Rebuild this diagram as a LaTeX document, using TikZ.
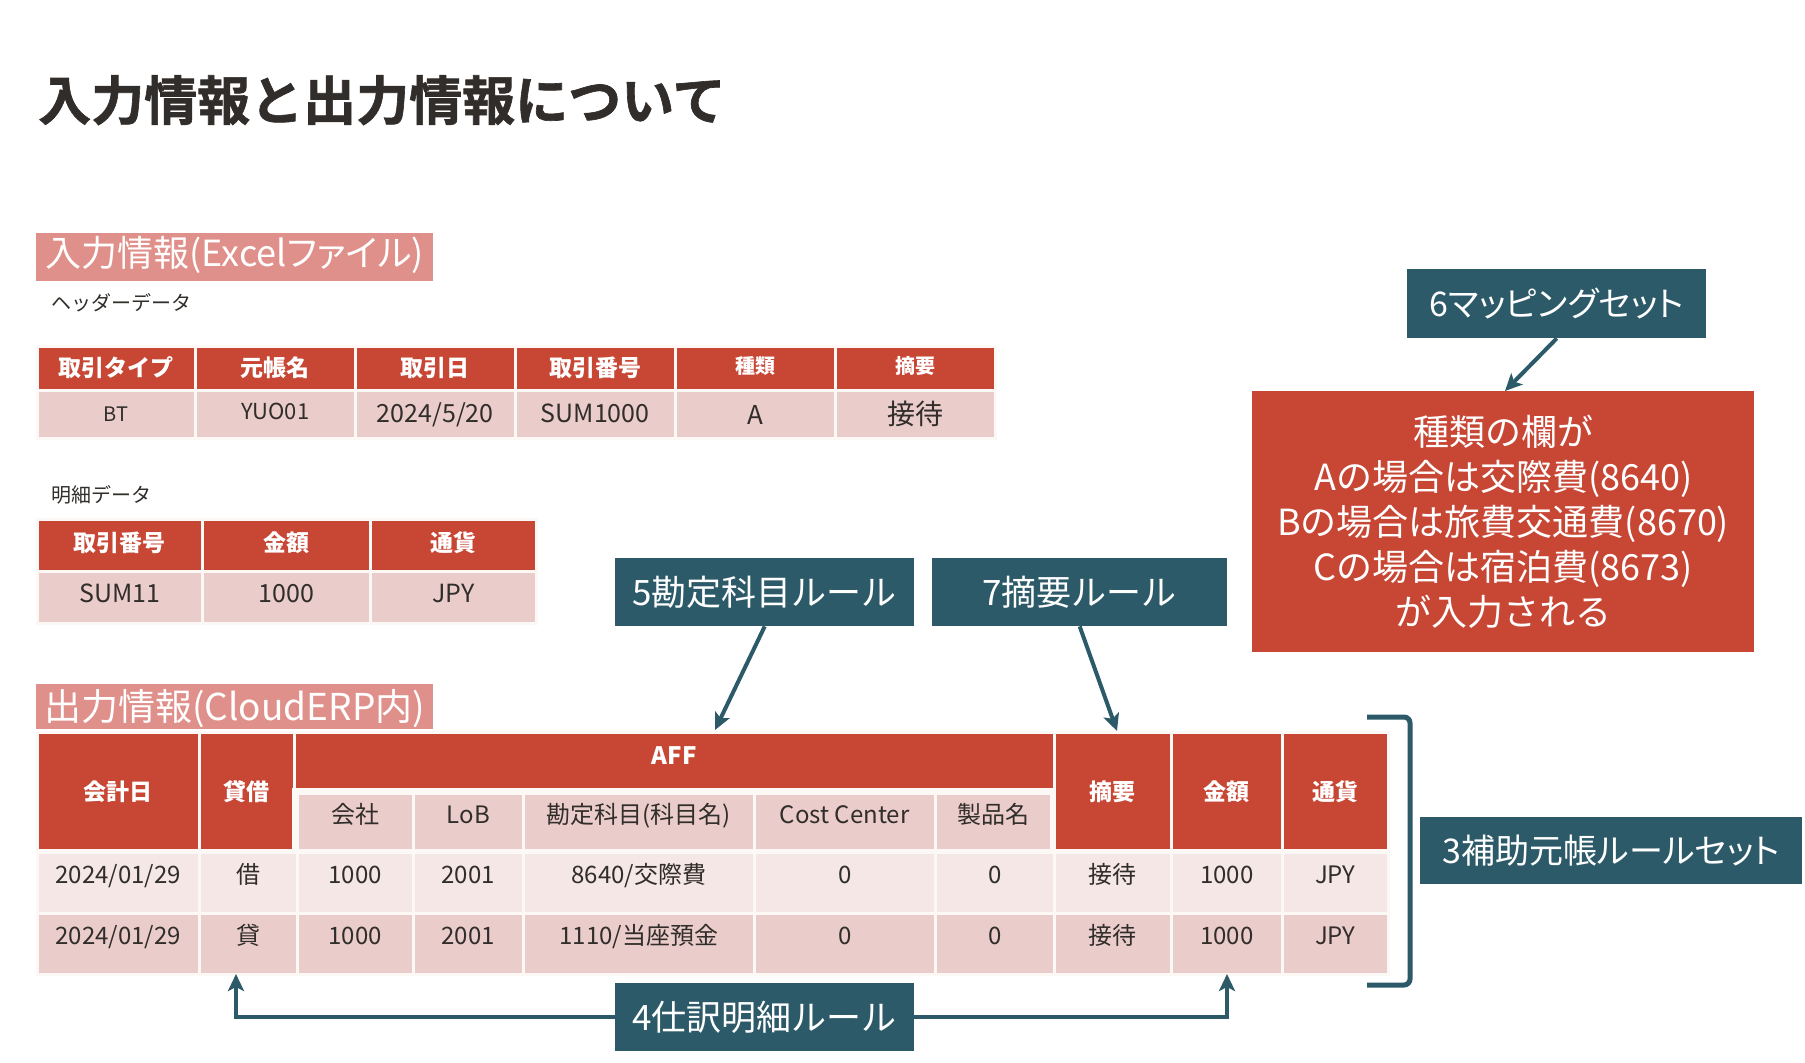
\documentclass[tikz,border=0pt]{standalone}
\usepackage{fontspec}
\setmainfont{Noto Sans CJK JP}
\newfontfamily\jpp{Noto Sans CJK JP}[RawFeature=+palt]
\newfontfamily\titlefont{Noto Sans CJK JP Bold}[FakeBold=1.2]
\usetikzlibrary{arrows.meta}
\definecolor{oRed}{HTML}{C74634}
\definecolor{oSalmon}{HTML}{E0908A}
\definecolor{oPink}{HTML}{EACDCA}
\definecolor{oLight}{HTML}{F4E7E6}
\definecolor{oTeal}{HTML}{2C5A69}
\definecolor{oText}{HTML}{312D2A}
\definecolor{cellline}{HTML}{FBF8F6}
\def\curfs{24}
\def\curlift{0}
\newcommand{\tcell}[7]{\node[#1, minimum width={(#5)-(#3)}, minimum height={(#6)-(#4)}] (#2) at (#3,#4) {#7};}
\tikzset{
  every node/.style={inner sep=0pt},
  sz/.code={\def\curfs{#1}},
  lift/.code={\def\curlift{#1}},
  tx/.style={text height={0.88*\curfs*1pt}, text depth={(0.12*\curfs+2*\curlift)*1pt}},
  cell/.style={tx, anchor=north west, draw=cellline, line width=2.5pt},
  hdr/.style={cell, fill=oRed, text=white, font=\bfseries\fontsize{23}{26}\selectfont, sz=23},
  pcell/.style={cell, fill=oPink, text=oText, font=\fontsize{24}{28}\selectfont, sz=24},
  lcell/.style={cell, fill=oLight, text=oText, font=\fontsize{24}{28}\selectfont, sz=24},
  rulebox/.style={tx, anchor=north west, fill=oTeal, text=white, font=\fontsize{35}{40}\selectfont, sz=35},
  sect/.style={tx, anchor=north west, fill=oSalmon, text=white},
  conn/.style={draw=oTeal, line width=4pt, -{Stealth[length=17pt,width=16pt,inset=4pt]}},
}
\begin{document}
\begin{tikzpicture}[x=1pt,y=-1pt]
\fill[white] (0,0) rectangle (1805,1063);
\useasboundingbox (0,0) rectangle (1805,1063);

\node[tx, sz=53, anchor=west, font=\titlefont\fontsize{53}{60}\selectfont, text=oText] (title) at (38,100) {入力情報と出力情報について};

% input section
\tcell{sect, font=\jpp\fontsize{36}{40}\selectfont, sz=36, lift=4}{secin}{36}{233}{433}{281}{入力情報(Excelファイル)}
\node[tx, sz=20, anchor=west, font=\fontsize{20}{24}\selectfont, text=oText] (hdrlabel) at (51,303) {ヘッダーデータ};

\tcell{hdr}{h1}{36}{345}{194}{389}{取引タイプ}
\tcell{hdr}{h2}{194}{345}{354}{389}{元帳名}
\tcell{hdr}{h3}{354}{345}{514}{389}{取引日}
\tcell{hdr}{h4}{514}{345}{674}{389}{取引番号}
\tcell{hdr, font=\bfseries\fontsize{20}{24}\selectfont, sz=20, lift=2}{h5}{674}{345}{834}{389}{種類}
\tcell{hdr, font=\bfseries\fontsize{20}{24}\selectfont, sz=20, lift=2}{h6}{834}{345}{994}{389}{摘要}
\tcell{pcell, font=\fontsize{20}{24}\selectfont, sz=20}{d1}{36}{389}{194}{437}{BT}
\tcell{pcell, font=\fontsize{22}{24}\selectfont, sz=22, lift=3}{d2}{194}{389}{354}{437}{YUO01}
\tcell{pcell, font=\fontsize{25}{28}\selectfont, sz=25, lift=1}{d3}{354}{389}{514}{437}{2024/5/20}
\tcell{pcell, font=\fontsize{25}{28}\selectfont, sz=25, lift=1}{d4}{514}{389}{674}{437}{SUM1000}
\tcell{pcell, font=\fontsize{26}{28}\selectfont, sz=26}{d5}{674}{389}{834}{437}{A}
\tcell{pcell, font=\fontsize{28}{30}\selectfont, sz=28}{d6}{834}{389}{994}{437}{接待}

\node[tx, sz=20, anchor=west, font=\fontsize{20}{24}\selectfont, text=oText] (detlabel) at (51,495) {明細データ};
\tcell{hdr, lift=2}{m1}{36}{518}{201}{570}{取引番号}
\tcell{hdr, lift=2}{m2}{201}{518}{369}{570}{金額}
\tcell{hdr, lift=2}{m3}{369}{518}{535}{570}{通貨}
\tcell{pcell, font=\fontsize{25}{28}\selectfont, sz=25, lift=4}{n1}{36}{570}{201}{622}{SUM11}
\tcell{pcell, font=\fontsize{25}{28}\selectfont, sz=25, lift=4}{n2}{201}{570}{369}{622}{1000}
\tcell{pcell, font=\fontsize{25}{28}\selectfont, sz=25, lift=4}{n3}{369}{570}{535}{622}{JPY}

% rule boxes
\tcell{rulebox}{box5}{615}{558}{914}{626}{5勘定科目ルール}
\tcell{rulebox}{box7}{932}{558}{1227}{626}{7摘要ルール}
\tcell{rulebox, font=\jpp\fontsize{34}{40}\selectfont, sz=34}{box6}{1407}{269}{1706}{338}{6マッピングセット}
\tcell{rulebox, font=\jpp\fontsize{34}{40}\selectfont, sz=34}{box3}{1420}{817}{1802}{884}{3補助元帳ルールセット}
\tcell{rulebox}{box4}{615}{983}{914}{1051}{4仕訳明細ルール}
\node[anchor=north west, fill=oRed, text=white, minimum width=502, minimum height=261, align=center, font=\fontsize{36}{45}\selectfont] (redbox) at (1252,391) {種類の欄が\\Aの場合は交際費(8640)\\Bの場合は旅費交通費(8670)\\Cの場合は宿泊費(8673)\\が入力される};

% output section
\tcell{sect, font=\fontsize{37}{40}\selectfont, sz=37}{secout}{36}{684}{433}{729}{出力情報(CloudERP内)}

\tcell{hdr}{o1}{36}{731}{198}{849}{会計日}
\tcell{hdr}{o2}{198}{731}{293}{849}{貸借}
\tcell{hdr, font=\bfseries\fontsize{24}{26}\selectfont, sz=24, lift=6}{aff}{293}{731}{1053}{789}{AFF}
\tcell{pcell, lift=8}{s1}{296}{792}{412}{850}{会社}
\tcell{pcell, lift=8}{s2}{412}{792}{522}{850}{LoB}
\tcell{pcell, lift=8}{s3}{522}{792}{753}{850}{勘定科目(科目名)}
\tcell{pcell, lift=8}{s4}{753}{792}{934}{850}{Cost Center}
\tcell{pcell, lift=8}{s5}{934}{792}{1051}{850}{製品名}
\tcell{hdr}{o8}{1053}{731}{1170}{849}{摘要}
\tcell{hdr}{o9}{1170}{731}{1281}{849}{金額}
\tcell{hdr}{o10}{1281}{731}{1387}{849}{通貨}
\draw[cellline, line width=5pt] (294,790) rectangle (1052,851);

\tcell{lcell, lift=8}{r1c1}{36}{851}{198}{912}{2024/01/29}
\tcell{lcell, lift=8}{r1c2}{198}{851}{296}{912}{借}
\tcell{lcell, lift=8}{r1c3}{296}{851}{412}{912}{1000}
\tcell{lcell, lift=8}{r1c4}{412}{851}{522}{912}{2001}
\tcell{lcell, lift=8}{r1c5}{522}{851}{753}{912}{8640/交際費}
\tcell{lcell, lift=8}{r1c6}{753}{851}{934}{912}{0}
\tcell{lcell, lift=8}{r1c7}{934}{851}{1053}{912}{0}
\tcell{lcell, lift=8}{r1c8}{1053}{851}{1170}{912}{接待}
\tcell{lcell, lift=8}{r1c9}{1170}{851}{1281}{912}{1000}
\tcell{lcell, lift=8}{r1c10}{1281}{851}{1387}{912}{JPY}

\tcell{pcell, lift=8}{r2c1}{36}{912}{198}{973}{2024/01/29}
\tcell{pcell, lift=8}{r2c2}{198}{912}{296}{973}{貸}
\tcell{pcell, lift=8}{r2c3}{296}{912}{412}{973}{1000}
\tcell{pcell, lift=8}{r2c4}{412}{912}{522}{973}{2001}
\tcell{pcell, lift=8}{r2c5}{522}{912}{753}{973}{1110/当座預金}
\tcell{pcell, lift=8}{r2c6}{753}{912}{934}{973}{0}
\tcell{pcell, lift=8}{r2c7}{934}{912}{1053}{973}{0}
\tcell{pcell, lift=8}{r2c8}{1053}{912}{1170}{973}{接待}
\tcell{pcell, lift=8}{r2c9}{1170}{912}{1281}{973}{1000}
\tcell{pcell, lift=8}{r2c10}{1281}{912}{1387}{973}{JPY}

% bracket
\draw[oTeal, line width=5pt, rounded corners=6pt] (1367,717) -- (1410,717) -- (1410,985) -- (1367,985);

% connectors
\coordinate (t5) at (715,730);
\coordinate (t7) at (1117,731);
\coordinate (t6) at (1505,391);
\coordinate (t4l) at (236,974);
\coordinate (t4r) at (1227,974);
\draw[conn] (box5.south) -- (t5);
\draw[conn] (box7.south) -- (t7);
\draw[conn] (box6.south) -- (t6);
\draw[conn] (box4.west) -| (t4l);
\draw[conn] (box4.east) -| (t4r);
\end{tikzpicture}
\end{document}
